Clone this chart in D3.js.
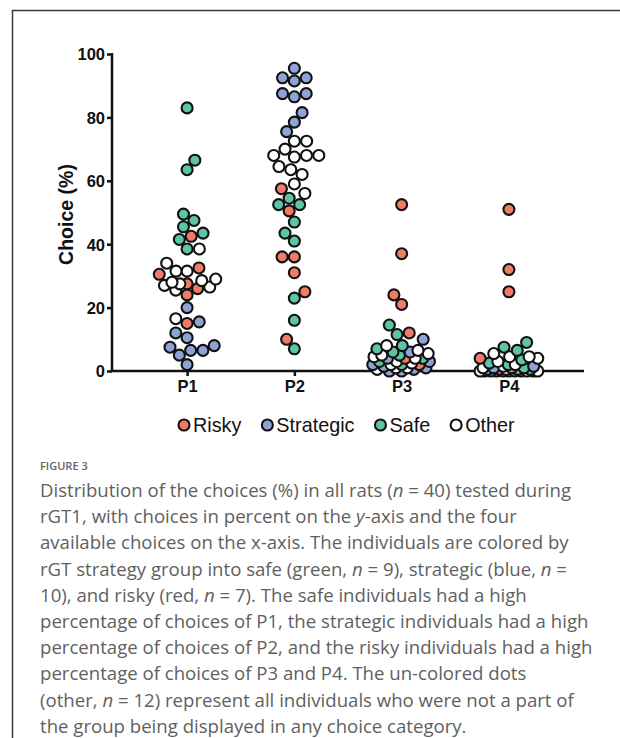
<!DOCTYPE html>
<html>
<head>
<meta charset="utf-8">
<script src="https://cdn.jsdelivr.net/npm/d3@7"></script>
<style>
  html, body { margin: 0; padding: 0; background: #fff; }
  svg { display: block; }
</style>
</head>
<body>
<svg id="chart" width="620" height="738"></svg>
<script>
// ---- data ----
const categories = ["P1", "P2", "P3", "P4"];
const groups = ["Risky", "Strategic", "Safe", "Other"];
const yTicks = [0, 20, 40, 60, 80, 100];

const riskyValues     = { P1: [42.5, 32.5, 30.5, 27.5, 26, 24, 15],
                          P2: [57.5, 50.5, 36, 36, 31, 25, 10],
                          P3: [52.5, 37, 24, 21, 12, 4, 2],
                          P4: [51, 32, 25, 4, 1, 0.5, 0] };
const strategicValues = { P1: [20, 15.5, 12, 10.5, 8, 7.5, 6.5, 6.5, 5, 2],
                          P2: [95.5, 92.5, 92.5, 91.5, 87.5, 87.5, 86.5, 81.5, 78.5, 75.5],
                          P3: [10, 6, 4, 3, 2, 1.5, 1, 0.5, 0, 0],
                          P4: [1.5, 1, 0.5, 0.5, 0, 0, 0, 0, 0, 0] };
const safeValues      = { P1: [83, 66.5, 63.5, 49.5, 47.5, 45.5, 43.5, 41.5, 38.5],
                          P2: [54.5, 52.5, 52.5, 47, 43.5, 41, 23, 16, 7],
                          P3: [14.5, 11.5, 8, 7, 6, 5, 4, 3, 2],
                          P4: [9, 7.5, 6.5, 3.5, 2.5, 2, 1, 0.5, 0] };
const otherValues     = { P1: [38.5, 34, 31.5, 31.5, 29, 28.5, 28, 27.5, 27, 26.5, 25.5, 16.5],
                          P2: [72.5, 72.5, 70, 68, 68, 68, 67.5, 64.5, 63.5, 62, 59, 56],
                          P3: [8, 6.5, 5.5, 5, 4.5, 4, 3, 2.5, 2, 1, 1, 0.5],
                          P4: [5.5, 4.5, 4.5, 4, 3, 2, 1.5, 1, 0.5, 0, 0, 0] };

const groupColors = ["#F07B69", "#8FA4D6", "#5EC4A6", "#FFFFFF"];

const captionTitle = "FIGURE 3";
const captionLines = [
  [["Distribution of the choices (%) in all rats ("], ["n", 1], [" = 40) tested during"]],
  [["rGT1, with choices in percent on the "], ["y", 1], ["-axis and the four"]],
  [["available choices on the x-axis. The individuals are colored by"]],
  [["rGT strategy group into safe (green, "], ["n", 1], [" = 9), strategic (blue, "], ["n", 1], [" ="]],
  [["10), and risky (red, "], ["n", 1], [" = 7). The safe individuals had a high"]],
  [["percentage of choices of P1, the strategic individuals had a high"]],
  [["percentage of choices of P2, and the risky individuals had a high"]],
  [["percentage of choices of P3 and P4. The un-colored dots"]],
  [["(other, "], ["n", 1], [" = 12) represent all individuals who were not a part of"]],
  [["the group being displayed in any choice category."]]
];

// ---- layout ----
const svg = d3.select("#chart");
const plot = { left: 112, right: 584, top: 54, bottom: 371 };
const x = d3.scalePoint().domain(categories).range([plot.left, plot.right]).padding(0.7);
const y = d3.scaleLinear().domain([0, 100]).range([plot.bottom, plot.top]);
const color = d3.scaleOrdinal().domain(groups).range(groupColors);

// frame
svg.append("path")
  .attr("d", "M12.5,738 V10.5 H620")
  .attr("fill", "none").attr("stroke", "#3a3a3a").attr("stroke-width", 1.5);

// beeswarm placement (deterministic)
const R = 5.5, SW = 2.1;
const valueSets = [riskyValues, strategicValues, safeValues, otherValues];
const points = [];
categories.forEach(cat => {
  const pts = [];
  groups.forEach((g, gi) => valueSets[gi][cat].forEach(v => pts.push({ cat, g, v })));
  pts.sort((a, b) => d3.ascending(a.v, b.v));
  const placed = [];
  const maxW = 29;
  pts.forEach((p, i) => {
    const py = y(p.v);
    let d = 2 * R + SW * 0.6;
    let chosen = null;
    while (chosen === null) {
      const cands = [0];
      placed.forEach(q => {
        const dy = Math.abs(q.py - py);
        if (dy < d) {
          const dx = Math.sqrt(d * d - dy * dy);
          cands.push(q.dx + dx, q.dx - dx);
        }
      });
      cands.sort((a, b) => Math.abs(a) - Math.abs(b) || (i % 2 ? a - b : b - a));
      for (const c of cands) {
        if (Math.abs(c) > maxW) continue;
        const ok = placed.every(q => (q.dx - c) ** 2 + (q.py - py) ** 2 >= d * d - 0.01);
        if (ok) { chosen = c; break; }
      }
      d *= 0.9;
    }
    p.py = py; p.dx = chosen;
    placed.push(p);
    points.push(p);
  });
});

// axes
const axisFont = "'Liberation Sans', Arial, Helvetica, sans-serif";
const yAxis = svg.append("g")
  .attr("transform", `translate(${plot.left},0)`)
  .call(d3.axisLeft(y).tickValues(yTicks).tickSize(5).tickSizeOuter(0).tickPadding(2));
const xAxis = svg.append("g")
  .attr("transform", `translate(0,${plot.bottom})`)
  .call(d3.axisBottom(x).tickSize(5).tickSizeOuter(0).tickPadding(4));
[yAxis, xAxis].forEach(a => {
  a.select(".domain").attr("stroke", "#111").attr("stroke-width", 2.5);
  a.selectAll(".tick line").attr("stroke", "#111").attr("stroke-width", 2.5);
  a.selectAll(".tick text").attr("fill", "#111")
    .attr("font-family", axisFont).attr("font-weight", "bold").attr("font-size", 16.5);
});
yAxis.selectAll(".tick text").attr("dy", "0.36em");
xAxis.select(".domain").attr("d", `M${plot.left - 1.25},0H${plot.right}`);
yAxis.select(".domain").attr("d", `M0,${plot.bottom}V${plot.top - 1}`);

svg.append("text")
  .attr("transform", `translate(73,${(plot.top + plot.bottom) / 2 + 2}) rotate(-90)`)
  .attr("text-anchor", "middle")
  .attr("font-family", axisFont).attr("font-weight", "bold").attr("font-size", 19.5)
  .attr("fill", "#111")
  .text("Choice (%)");

// dots
svg.append("g").selectAll("circle").data(points).join("circle")
  .attr("cx", d => x(d.cat) + d.dx)
  .attr("cy", d => d.py)
  .attr("r", R)
  .attr("fill", d => color(d.g))
  .attr("stroke", "#111")
  .attr("stroke-width", SW);

// legend
const legend = svg.append("g").attr("transform", "translate(0,425)");
let lx = 184;
groups.forEach(g => {
  legend.append("circle").attr("cx", lx).attr("cy", 0).attr("r", R)
    .attr("fill", color(g)).attr("stroke", "#111").attr("stroke-width", SW);
  const t = legend.append("text").attr("x", lx + 9).attr("y", 0).attr("dy", "0.35em")
    .attr("font-family", axisFont).attr("font-size", 19.8).attr("fill", "#111").text(g);
  lx = lx + 9 + t.node().getComputedTextLength() + 26;
});

// caption
const capFont = "'Open Sans', Lato, sans-serif";
svg.append("text").attr("x", 40).attr("y", 470)
  .attr("font-family", capFont).attr("font-size", 11).attr("font-weight", "600")
  .attr("fill", "#666").text(captionTitle);
const cap = svg.append("text").attr("font-family", capFont).attr("font-size", 18.6).attr("fill", "#5f5f5f");
captionLines.forEach((line, i) => {
  const tl = cap.append("tspan").attr("x", 40).attr("y", 497 + i * 26.2);
  line.forEach(([s, it]) => {
    const sp = tl.append("tspan").text(s);
    if (it) sp.attr("font-style", "italic");
  });
});
</script>
</body>
</html>
